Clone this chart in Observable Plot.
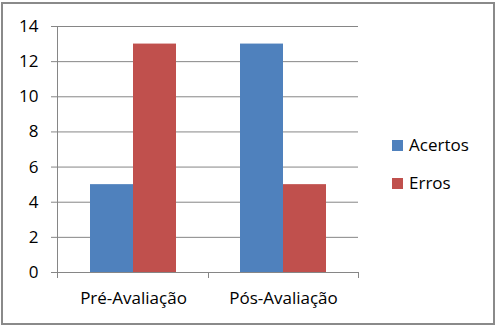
<!DOCTYPE html>
<html><head><meta charset="utf-8">
<script src="https://cdn.jsdelivr.net/npm/d3@7"></script>
<script src="https://cdn.jsdelivr.net/npm/@observablehq/plot@0.6"></script>
<style>
body{margin:0;background:#fff;}
#wrap{position:relative;width:497px;height:327px;overflow:hidden;font-family:"Open Sans",sans-serif;}
#border{position:absolute;left:1px;top:2px;width:494px;height:323px;box-sizing:border-box;border:2px solid #8a8a8a;pointer-events:none;}
#chart{position:absolute;left:0;top:0;}
.leg{position:absolute;font-size:17px;color:#000;line-height:1;}
.sw{position:absolute;width:11px;height:11px;}
</style></head><body>
<div id="wrap"><div id="chart"></div><div id="legend"></div><div id="border"></div></div>
<script>
const categories = ["Pré-Avaliação", "Pós-Avaliação"];
const series = ["Acertos", "Erros"];
const acertos = [5, 13];
const erros = [13, 5];
const yTicks = [0, 2, 4, 6, 8, 10, 12, 14];
const colors = ["#4F81BD", "#C0504D"];

const data = [];
categories.forEach((c, i) => {
  data.push({cat: c, series: series[0], value: acertos[i]});
  data.push({cat: c, series: series[1], value: erros[i]});
});

const W = 497, H = 327;
const ml = 57, mr = 139, mt = 26, mb = 55;
const grid = "#868686";

const chart = Plot.plot({
  width: W, height: H,
  marginLeft: ml, marginRight: mr, marginTop: mt, marginBottom: mb,
  style: {fontFamily: "Open Sans, sans-serif", fontSize: "17px", color: "#000", background: "transparent"},
  fx: {domain: categories, padding: 0, label: null},
  x: {domain: series, paddingInner: 0, paddingOuter: 0.74, axis: null},
  y: {domain: [0, 14], label: null},
  color: {domain: series, range: colors},
  marks: [
    Plot.gridY(yTicks, {stroke: grid, strokeOpacity: 1, strokeWidth: 1}),
    Plot.barY(data, {fx: "cat", x: "series", y: "value", fill: "series"}),
    Plot.axisY(yTicks, {tickSize: 7, tickPadding: 13, stroke: grid, label: null, tickFormat: d => d}),
    Plot.axisFx({anchor: "bottom", tickSize: 0, tickPadding: 19, label: null})
  ]
});
document.getElementById("chart").appendChild(chart);

// axis lines and category boundary ticks, from Plot's own scales
const fx = chart.scale("fx"), y = chart.scale("y");
const svg = d3.select(chart);
const g = svg.append("g").attr("stroke", grid).attr("stroke-width", 1);
const x0 = fx.apply(categories[0]);
const xEnd = fx.apply(categories[categories.length - 1]) + fx.bandwidth;
const y0 = y.apply(0), yTop = y.apply(14);
g.append("line").attr("x1", x0 - 0.5).attr("x2", x0 - 0.5).attr("y1", yTop).attr("y2", y0 + 6);
g.append("line").attr("x1", x0).attr("x2", xEnd).attr("y1", y0 + 0.5).attr("y2", y0 + 0.5);
categories.forEach((c, i) => {
  if (i > 0) { const xx = Math.round(fx.apply(c)) + 0.5; g.append("line").attr("x1", xx).attr("x2", xx).attr("y1", y0).attr("y2", y0 + 6); }
});
g.append("line").attr("x1", Math.round(xEnd) + 0.5).attr("x2", Math.round(xEnd) + 0.5).attr("y1", y0).attr("y2", y0 + 6);

// legend
const leg = document.getElementById("legend");
series.forEach((s, i) => {
  const top = 140 + i * 38;
  const sw = document.createElement("div");
  sw.className = "sw"; sw.style.left = "392px"; sw.style.top = top + "px"; sw.style.background = colors[i];
  leg.appendChild(sw);
  const t = document.createElement("div");
  t.className = "leg"; t.style.left = "409px"; t.style.top = (top - 4) + "px"; t.textContent = s;
  leg.appendChild(t);
});
</script>
</body></html>
